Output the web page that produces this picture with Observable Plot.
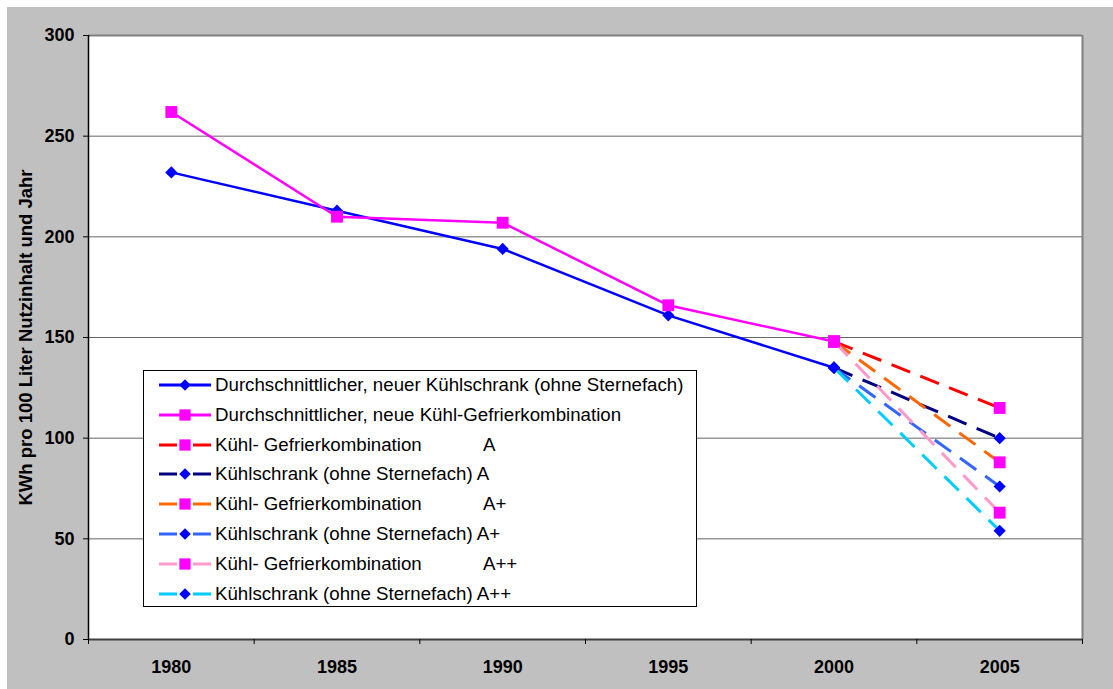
<!DOCTYPE html>
<html>
<head>
<meta charset="utf-8">
<script src="https://cdn.jsdelivr.net/npm/d3@7"></script>
<script src="https://cdn.jsdelivr.net/npm/@observablehq/plot@0.6"></script>
<style>
  body { margin: 0; background: #ffffff; font-family: "Liberation Sans", Arial, sans-serif; }
  #wrap { position: absolute; left: 7px; top: 7px; width: 1106px; height: 682px; background: #c0c0c0; overflow: hidden; }
  #legend { position: absolute; left: 136px; top: 363px; width: 552px; height: 235px; background: #fff; border: 1px solid #000; }
  #rows { position: absolute; left: 0; top: -1px; width: 100%; }
  .row { height: 29.85px; display: flex; align-items: center; font-size: 18.7px; color: #000; white-space: pre; }
  .row svg { margin-left: 15px; margin-right: 4px; flex: none; }
</style>
</head>
<body>
<div id="wrap"><div id="legend"><div id="rows"></div></div></div>
<script>
// ---- data ----
const years = [1980, 1985, 1990, 1995, 2000, 2005];
const histYears = [1980, 1985, 1990, 1995, 2000];
const projYears = [2000, 2005];
const kuehlschrankAvg = [232, 213, 194, 161, 135];
const kombiAvg = [262, 210, 207, 166, 148];
const kombiA = [148, 115];
const kuehlA = [135, 100];
const kombiAplus = [148, 88];
const kuehlAplus = [135, 76];
const kombiAplusplus = [148, 63];
const kuehlAplusplus = [135, 54];
const yTicks = [0, 50, 100, 150, 200, 250, 300];
const seriesNames = [
  "Durchschnittlicher, neuer Kühlschrank (ohne Sternefach)",
  "Durchschnittlicher, neue Kühl-Gefrierkombination",
  "Kühl- Gefrierkombination            A",
  "Kühlschrank (ohne Sternefach) A",
  "Kühl- Gefrierkombination            A+",
  "Kühlschrank (ohne Sternefach) A+",
  "Kühl- Gefrierkombination            A++",
  "Kühlschrank (ohne Sternefach) A++"
];
const seriesValues = [kuehlschrankAvg, kombiAvg, kombiA, kuehlA, kombiAplus, kuehlAplus, kombiAplusplus, kuehlAplusplus];
const seriesYears = [histYears, histYears, projYears, projYears, projYears, projYears, projYears, projYears];
const yLabel = "KWh pro 100 Liter Nutzinhalt und Jahr";

// ---- styles ----
const lineColors = ["#0000FF", "#FF00FF", "#FF0000", "#000080", "#FF6600", "#3366FF", "#FF99CC", "#00CCFF"];
const dashed = [false, false, true, true, true, true, true, true];
const markers = ["diamond2", "square", "square", "diamond2", "square", "diamond2", "square", "diamond2"];
const markerFill = m => m === "square" ? "#FF00FF" : "#0000FF";
const markerR = m => m === "square" ? 6.7 : 5.5;
const dashPattern = "20,11";

const rows = seriesValues.flatMap((vals, i) => vals.map((v, j) => ({series: i, year: seriesYears[i][j], value: v})));
const bounds = [years[0] - 2.5, ...years.map(y => y + 2.5)];

const marks = [
  Plot.frame({fill: "white"}),
  Plot.gridY(yTicks.slice(1, -1), {stroke: "#666", strokeOpacity: 1, strokeWidth: 1}),
  Plot.ruleY([300], {stroke: "#808080", strokeWidth: 2}),
  Plot.ruleX([bounds[bounds.length - 1]], {stroke: "#808080", strokeWidth: 2}),
  Plot.ruleX([bounds[0]], {stroke: "#000", strokeWidth: 1.5}),
  Plot.ruleY([0], {stroke: "#404040", strokeWidth: 2}),
  Plot.axisY(yTicks, {tickSize: 5, tickPadding: 9, fontSize: 18, fontWeight: "bold", label: null}),
  Plot.axisY({label: yLabel, ticks: [], tickSize: 0, fontSize: 18.5, fontWeight: "bold", labelAnchor: "center", labelArrow: "none", labelOffset: 70}),
  Plot.axisX(bounds, {tickSize: 5, tickFormat: () => "", label: null}),
  Plot.axisX(years, {tickSize: 0, tickPadding: 21, fontSize: 18, fontWeight: "bold", label: null, tickFormat: d => String(d)})
];
seriesValues.forEach((_, i) => {
  const data = rows.filter(r => r.series === i);
  marks.push(Plot.line(data, {
    x: "year", y: "value", stroke: lineColors[i],
    strokeWidth: dashed[i] ? 3 : 2.5,
    strokeDasharray: dashed[i] ? dashPattern : null,
    strokeLinecap: "butt"
  }));
  marks.push(Plot.dot(data, {
    x: "year", y: "value", symbol: markers[i], r: markerR(markers[i]), fill: markerFill(markers[i]), stroke: null
  }));
});

const chart = Plot.plot({
  width: 1106, height: 682,
  marginLeft: 81, marginRight: 31, marginTop: 28, marginBottom: 50,
  style: {background: "transparent", fontFamily: "'Liberation Sans', Arial, sans-serif", color: "#000", overflow: "visible"},
  x: {type: "linear", domain: [bounds[0], bounds[bounds.length - 1]], label: null},
  y: {domain: [0, 300], label: yLabel},
  marks
});
const wrap = document.getElementById("wrap");
wrap.insertBefore(chart, wrap.firstChild);
chart.style.position = "absolute"; chart.style.left = "0"; chart.style.top = "0";

// ---- legend ----
const legend = d3.select("#rows");
seriesNames.forEach((name, i) => {
  const row = legend.append("div").attr("class", "row");
  const sw = row.append("svg").attr("width", 52).attr("height", 16);
  sw.append("line").attr("x1", 0).attr("x2", 52).attr("y1", 8).attr("y2", 8)
    .attr("stroke", lineColors[i]).attr("stroke-width", 3)
    .attr("stroke-dasharray", dashed[i] ? "18,16" : null);
  const sym = markers[i] === "square" ? d3.symbolSquare : d3.symbolDiamond2;
  const r = markerR(markers[i]);
  sw.append("path").attr("transform", "translate(26,8)")
    .attr("d", d3.symbol(sym, Math.PI * r * r * 0.9)())
    .attr("fill", markerFill(markers[i]));
  row.append("span").text(name);
});
</script>
</body>
</html>
